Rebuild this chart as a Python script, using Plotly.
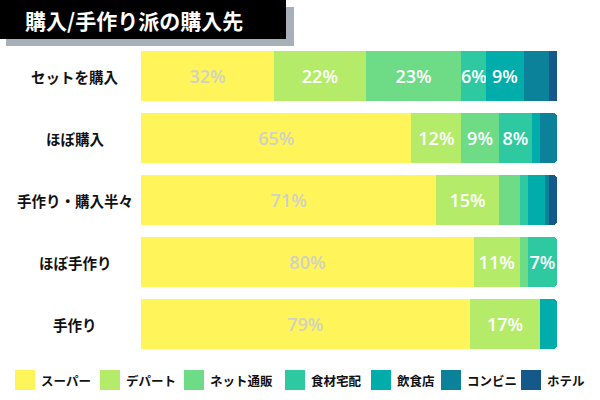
import plotly.graph_objects as go

# ---- data ----
categories = ["セットを購入", "ほぼ購入", "手作り・購入半々", "ほぼ手作り", "手作り"]
series_names = ["スーパー", "デパート", "ネット通販", "食材宅配", "飲食店", "コンビニ", "ホテル"]
supermarket = [32, 65, 71, 80, 79]
department = [22, 12, 15, 11, 17]
online = [23, 9, 5, 2, 0]
meal_kit = [6, 8, 2, 7, 0]
restaurant = [9, 2, 4, 0, 4]
konbini = [6, 4, 1, 0, 0]
hotel = [2.7, 0, 2, 0, 0]
labelled = [True, True, True, True, True, False, False]
title_text = "購入/手作り派の購入先"

series_values = [supermarket, department, online, meal_kit, restaurant, konbini, hotel]
colors = ["#fff55a", "#b4ec6a", "#6edb86", "#2ec9a1", "#00adaa", "#0b8299", "#15588a"]
text_colors = ["#d0d2c2"] + ["#ffffff"] * 6

# ---- layout geometry (pixels) ----
W, H = 600, 400
ML, MR, MT, MB = 141, 43, 45, 45
PW, PH = W - ML - MR, H - MT - MB


def px_x(px):
    return (px - ML) / PW


def px_y(py):
    return (H - MB - py) / PH


fig = go.Figure()
for name, vals, col, tcol, lab in zip(series_names, series_values, colors, text_colors, labelled):
    fig.add_trace(go.Bar(
        y=categories, x=vals, name=name, orientation="h",
        marker=dict(color=col, line=dict(width=0)),
        text=[f"{v:g}%" if (lab and v >= 6) else "" for v in vals],
        textposition="inside", insidetextanchor="middle", textangle=0,
        constraintext="none",
        textfont=dict(family="Open Sans", size=18, color=tcol, weight=600),
        showlegend=False, hoverinfo="skip",
    ))

shapes = [
    # title shadow + box
    dict(type="rect", xref="paper", yref="paper", x0=px_x(6), x1=px_x(294), y0=px_y(46), y1=px_y(7),
         fillcolor="#a7afb9", line=dict(width=0), layer="above"),
    dict(type="rect", xref="paper", yref="paper", x0=px_x(0), x1=px_x(286), y0=px_y(39), y1=px_y(0),
         fillcolor="#000000", line=dict(width=0), layer="above"),
]
annotations = [
    dict(text=title_text, xref="paper", yref="paper", x=px_x(23), y=px_y(20), xanchor="left",
         yanchor="middle", showarrow=False,
         font=dict(family="Noto Sans CJK JP", size=21, color="#ffffff", weight="bold")),
]
# category labels (centered)
for c in categories:
    annotations.append(dict(text=c, xref="paper", yref="y", x=px_x(75), y=c, xanchor="center",
                            yanchor="middle", showarrow=False,
                            font=dict(family="Noto Sans CJK JP", size=14.5, color="#111111",
                                      weight="bold")))
# legend (drawn)
legend_sq_x = [15, 100, 184, 285, 371, 441, 521]
for name, col, sx in zip(series_names, colors, legend_sq_x):
    shapes.append(dict(type="rect", xref="paper", yref="paper", x0=px_x(sx), x1=px_x(sx + 20),
                       y0=px_y(390), y1=px_y(370), fillcolor=col, line=dict(width=0)))
    annotations.append(dict(text=name, xref="paper", yref="paper", x=px_x(sx + 24), y=px_y(380),
                            xanchor="left", yanchor="middle", showarrow=False,
                            font=dict(family="Noto Sans CJK JP", size=12.5, color="#111111",
                                      weight="bold")))

fig.update_layout(
    width=W, height=H, barmode="stack", bargap=0.18, barcornerradius=5,
    margin=dict(l=ML, r=MR, t=MT, b=MB),
    paper_bgcolor="#ffffff", plot_bgcolor="#ffffff",
    xaxis=dict(range=[0, 100], visible=False, fixedrange=True),
    yaxis=dict(categoryorder="array", categoryarray=categories, autorange="reversed",
               showticklabels=False, showgrid=False, zeroline=False, showline=False, ticks="",
               fixedrange=True),
    uniformtext=dict(minsize=18, mode="show"),
    shapes=shapes, annotations=annotations, showlegend=False,
)

fig.write_html("out.html", config={"displayModeBar": False, "staticPlot": True},
               post_script="document.body.style.margin='0';")
